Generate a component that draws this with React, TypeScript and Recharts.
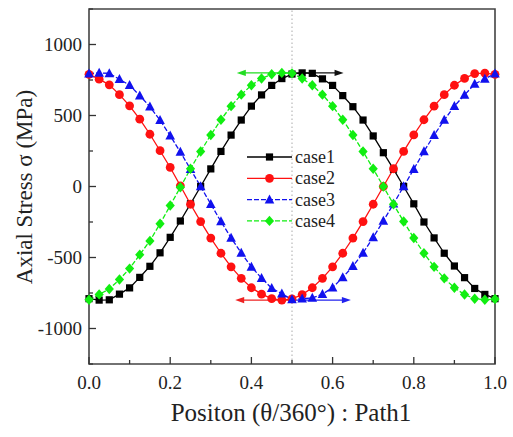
import React from "react";
import { LineChart, Line, XAxis, YAxis, ReferenceLine, ReferenceArea } from "recharts";

// position along path (θ/360°)
const positions = [
  0, 0.025, 0.05, 0.075, 0.1, 0.125, 0.15, 0.175, 0.2, 0.225,
  0.25, 0.275, 0.3, 0.325, 0.35, 0.375, 0.4, 0.425, 0.45, 0.475,
  0.5, 0.525, 0.55, 0.575, 0.6, 0.625, 0.65, 0.675, 0.7, 0.725,
  0.75, 0.775, 0.8, 0.825, 0.85, 0.875, 0.9, 0.925, 0.95, 0.975, 1,
];

const case1 = [
  -790, -800, -798, -758, -714, -640, -562, -467, -358, -243,
  -122, 0, 124, 247, 362, 468, 566, 645, 712, 760,
  792, 800, 797, 758, 712, 640, 562, 468, 356, 238,
  122, 0, -122, -250, -362, -470, -560, -642, -718, -760, -790,
];
const case2 = [
  790, 756, 716, 647, 568, 474, 368, 252, 134, 5,
  -125, -247, -363, -470, -566, -647, -713, -758, -790, -800,
  -792, -761, -713, -647, -566, -470, -363, -247, -125, 0,
  125, 247, 363, 470, 566, 647, 713, 761, 795, 798, 790,
];
const case3 = [
  795, 800, 797, 755, 714, 640, 562, 467, 358, 243,
  122, 0, -124, -247, -362, -468, -566, -645, -716, -755,
  -796, -790, -785, -758, -712, -640, -562, -468, -358, -243,
  -122, 0, 122, 247, 362, 468, 566, 645, 722, 758, 795,
];
const case4 = [
  -798, -760, -722, -655, -578, -480, -383, -262, -134, -5,
  125, 247, 363, 470, 566, 647, 713, 761, 790, 800,
  797, 761, 713, 647, 566, 470, 363, 247, 125, 0,
  -125, -247, -363, -470, -566, -647, -713, -761, -790, -798, -792,
];

const xTicks = [0, 0.1, 0.2, 0.3, 0.4, 0.5, 0.6, 0.7, 0.8, 0.9, 1];
const yTicks = [-1250, -1000, -750, -500, -250, 0, 250, 500, 750, 1000, 1250];
const yLabelTicks = [-1000, -500, 0, 500, 1000];

// annotation arrows at the peaks, from the centre line outwards
const arrowFrom = [0.5, 0.5, 0.5, 0.5];
const arrowTo = [0.364, 0.627, 0.36, 0.645];
const arrowLevel = [800, 800, -800, -800];
const arrowColors = ["#22dd22", "#111111", "#ee2222", "#2222ee"];

const data = positions.map((x, i) => ({
  x,
  case1: case1[i],
  case2: case2[i],
  case3: case3[i],
  case4: case4[i],
}));

const SERIF = { fontFamily: "Liberation Serif, DejaVu Serif, serif" };
const TEXT = "#222";

const BLACK = "#000000";
const RED = "#ff1111";
const BLUE = "#1111ee";
const GREEN = "#11ee11";

const squareDot = (p: any) => {
  const { cx, cy, index } = p;
  if (cx == null || cy == null) return <g key={index} />;
  return <rect key={index} x={cx - 3.6} y={cy - 3.6} width={7.2} height={7.2} fill={BLACK} />;
};
const circleDot = (p: any) => {
  const { cx, cy, index } = p;
  if (cx == null || cy == null) return <g key={index} />;
  return <circle key={index} cx={cx} cy={cy} r={4.4} fill={RED} />;
};
const triangleDot = (p: any) => {
  const { cx, cy, index } = p;
  if (cx == null || cy == null) return <g key={index} />;
  return (
    <polygon
      key={index}
      points={`${cx},${cy - 5.2} ${cx - 4.8},${cy + 3.8} ${cx + 4.8},${cy + 3.8}`}
      fill={BLUE}
    />
  );
};
const diamondDot = (p: any) => {
  const { cx, cy, index } = p;
  if (cx == null || cy == null) return <g key={index} />;
  return (
    <polygon
      key={index}
      points={`${cx},${cy - 5.2} ${cx + 4.6},${cy} ${cx},${cy + 5.2} ${cx - 4.6},${cy}`}
      fill={GREEN}
    />
  );
};

const XTick = (props: any) => {
  const { x, y, payload } = props;
  const v = payload.value as number;
  const major = Math.round(v * 10) % 2 === 0;
  return (
    <g>
      <line x1={x} y1={y} x2={x} y2={y - (major ? 7 : 4)} stroke="#333" strokeWidth={1.3} />
      {major && (
        <text x={x} y={y + 25} textAnchor="middle" style={SERIF} fontSize={19} fill={TEXT}>
          {v.toFixed(1)}
        </text>
      )}
    </g>
  );
};

const YTick = (props: any) => {
  const { x, y, payload } = props;
  const v = payload.value as number;
  const major = yLabelTicks.includes(v);
  return (
    <g>
      <line x1={x} y1={y} x2={x + (major ? 7 : 4)} y2={y} stroke="#333" strokeWidth={1.3} />
      {major && (
        <text x={x - 7} y={y + 6.5} textAnchor="end" style={SERIF} fontSize={19} fill={TEXT}>
          {v}
        </text>
      )}
    </g>
  );
};

const arrowShape = (color: string) => (p: any) => {
  const { x1, y1, x2, y2 } = p;
  const dir = x2 > x1 ? 1 : -1;
  return (
    <g>
      <line x1={x1} y1={y1} x2={x2 - dir * 4} y2={y2} stroke={color} strokeWidth={1.4} />
      <polygon
        points={`${x2},${y2} ${x2 - dir * 9},${y2 - 3.2} ${x2 - dir * 9},${y2 + 3.2}`}
        fill={color}
      />
    </g>
  );
};

const legendItems = [
  { name: "case1", color: BLACK, dash: undefined, dot: squareDot },
  { name: "case2", color: RED, dash: undefined, dot: circleDot },
  { name: "case3", color: BLUE, dash: "5 2", dot: triangleDot },
  { name: "case4", color: GREEN, dash: "5 2", dot: diamondDot },
];

const ChartLegend = () => (
  <svg
    width={120}
    height={95}
    style={{ position: "absolute", left: 240, top: 144, overflow: "visible" }}
  >
    {legendItems.map((it, i) => {
      const cy = 13 + i * 21.3;
      return (
        <g key={it.name}>
          <line x1={7} y1={cy} x2={52} y2={cy} stroke={it.color} strokeWidth={1.3} strokeDasharray={it.dash} />
          {it.dot({ cx: 29.5, cy, index: i })}
          <text x={55} y={cy + 6} style={SERIF} fontSize={18} fill={TEXT}>
            {it.name}
          </text>
        </g>
      );
    })}
  </svg>
);

export default function App() {
  return (
    <div style={{ position: "absolute", left: 0, top: 0, width: 513, height: 437, background: "#fff" }}>
      <LineChart
        width={513}
        height={437}
        data={data}
        margin={{ top: 9, right: 18, left: 0, bottom: 0 }}
      >
        <XAxis
          dataKey="x"
          type="number"
          domain={[0, 1]}
          ticks={xTicks}
          interval={0}
          tickSize={0}
          tickMargin={0}
          tickLine={false}
          axisLine={false}
          tick={XTick}
          height={73}
          label={() => (
            <text x={291} y={421} textAnchor="middle" style={SERIF} fontSize={25} fill={TEXT}>
              Positon (θ/360°) : Path1
            </text>
          )}
        />
        <YAxis
          type="number"
          domain={[-1250, 1250]}
          ticks={yTicks}
          interval={0}
          tickSize={0}
          tickMargin={0}
          tickLine={false}
          axisLine={false}
          tick={YTick}
          width={89}
          label={() => (
            <text
              x={27}
              y={187}
              textAnchor="middle"
              transform="rotate(-90 27 187)"
              style={SERIF}
              fontSize={23}
              fill={TEXT}
              dominantBaseline="middle"
            >
              Axial Stress σ (MPa)
            </text>
          )}
        />
        <ReferenceArea x1={0} x2={1} y1={-1250} y2={1250} fill="none" stroke="#444" strokeWidth={1.6} />
        <ReferenceLine x={0.5} stroke="#aaa" strokeDasharray="1.5 2.5" strokeWidth={1} />
        {arrowTo.map((to, i) => (
          <ReferenceLine
            key={i}
            segment={[
              { x: arrowFrom[i], y: arrowLevel[i] },
              { x: to, y: arrowLevel[i] },
            ]}
            shape={arrowShape(arrowColors[i])}
          />
        ))}
        <Line dataKey="case1" stroke={BLACK} strokeWidth={1.3} dot={squareDot} isAnimationActive={false} />
        <Line dataKey="case2" stroke={RED} strokeWidth={1.3} dot={circleDot} isAnimationActive={false} />
        <Line dataKey="case3" stroke={BLUE} strokeWidth={1.3} strokeDasharray="5 2" dot={triangleDot} isAnimationActive={false} />
        <Line dataKey="case4" stroke={GREEN} strokeWidth={1.3} strokeDasharray="5 2" dot={diamondDot} isAnimationActive={false} />
      </LineChart>
      <ChartLegend />
    </div>
  );
}
